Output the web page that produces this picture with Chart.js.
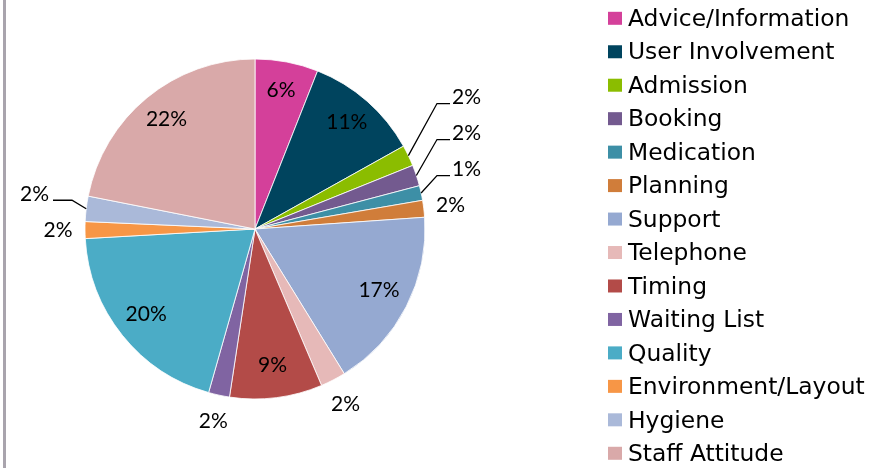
<!DOCTYPE html>
<html lang="en">
  <head>
    <meta charset="UTF-8">
    <title>Feedback categories</title>
    <script src="https://cdn.jsdelivr.net/npm/chart.js"></script>
    <style>
      html, body {
        margin: 0;
        padding: 0;
        background: #fff
      }

      .frame {
        position: relative;
        width: 878px;
        height: 468px
      }

      .frame .edge {
        position: absolute;
        left: 3px;
        top: 0;
        width: 3px;
        height: 468px;
        background: #a9a4ad
      }

      canvas {
        position: absolute;
        left: 0;
        top: 0
      }
    </style>
  </head>
  <body>
    <div class="frame">
      <div class="edge"></div>
      <canvas id="pie" width="878" height="468"></canvas>
    </div>
    <script>
      const categories = ['Advice/Information', 'User Involvement', 'Admission', 'Booking', 'Medication', 'Planning',
        'Support', 'Telephone', 'Timing', 'Waiting List', 'Quality', 'Environment/Layout', 'Hygiene', 'Staff Attitude'];
      const shares = [6.0, 10.9, 2.0, 2.0, 1.4, 1.6, 17.3, 2.4, 8.8, 2.0, 19.7, 1.6, 2.4, 21.9];
      const sliceColors = ['#d4409a', '#00445e', '#8bbd00', '#735a8f', '#3d8fa6', '#d07d3a',
        '#95a9d1', '#e6b9b8', '#b34b48', '#8064a2', '#4bacc6', '#f79646', '#aab9d9', '#d9a9a9'];

      // percentage labels: big slices inside, small ones outside with leader lines when pushed
      const pieLabels = {
        id: 'pieLabels',
        afterDatasetsDraw(chart) {
          const ctx = chart.ctx;
          const meta = chart.getDatasetMeta(0);
          const total = shares.reduce((a, b) => a + b, 0);
          const outside = [];
          const gap = 36;
          ctx.save();
          ctx.font = '21px Lato';
          ctx.fillStyle = '#000';
          ctx.strokeStyle = '#000';
          ctx.lineWidth = 1.3;
          ctx.textBaseline = 'middle';
          meta.data.forEach((arc, i) => {
            const p = arc.getProps(['x', 'y', 'startAngle', 'endAngle', 'outerRadius'], true);
            const mid = (p.startAngle + p.endAngle) / 2;
            const txt = Math.round(shares[i] / total * 100) + '%';
            if (shares[i] >= 5) {
              const r = p.outerRadius * 0.82;
              ctx.textAlign = 'center';
              ctx.fillText(txt, p.x + r * Math.cos(mid), p.y + r * Math.sin(mid) - 2);
            } else {
              const r = p.outerRadius + 27;
              outside.push({
                txt, mid, cx: p.x, cy: p.y, R: p.outerRadius,
                side: Math.cos(mid) >= 0 ? 1 : -1,
                lx: p.x + r * Math.cos(mid), ly: p.y + r * Math.sin(mid), moved: false
              });
            }
          });

          [1, -1].forEach(side => {
            const list = outside.filter(o => o.side === side);
            if (!list.length) return;
            const cy = list[0].cy;
            const anchor = list.reduce((a, b) => Math.abs(a.ly - cy) <= Math.abs(b.ly - cy) ? a : b);
            let prev = anchor.ly;
            list.filter(o => o.ly < anchor.ly).sort((a, b) => b.ly - a.ly).forEach(o => {
              if (prev - o.ly < gap) { o.ly = prev - gap; o.moved = true; }
              prev = o.ly;
            });
            prev = anchor.ly;
            list.filter(o => o.ly > anchor.ly).sort((a, b) => a.ly - b.ly).forEach(o => {
              if (o.ly - prev < gap) { o.ly = prev + gap; o.moved = true; }
              prev = o.ly;
            });
          });

          outside.forEach(o => {
            if (!o.moved) {
              ctx.textAlign = 'center';
              ctx.fillText(o.txt, o.lx, o.ly);
              return;
            }
            const ax = o.cx + o.R * Math.cos(o.mid);
            const ay = o.cy + o.R * Math.sin(o.mid);
            const lineY = o.ly + 6;
            const elbow = o.side > 0 ? 12 : 13;
            const end = o.side > 0 ? 25 : 32;
            const textAt = o.side > 0 ? 27 : 36;
            ctx.beginPath();
            ctx.moveTo(ax, ay);
            ctx.lineTo(o.cx + o.side * (o.R + elbow), lineY);
            ctx.lineTo(o.cx + o.side * (o.R + end), lineY);
            ctx.stroke();
            ctx.textAlign = o.side > 0 ? 'left' : 'right';
            ctx.fillText(o.txt, o.cx + o.side * (o.R + textAt), o.ly);
          });
          ctx.restore();
        }
      };

      const sideLegend = {
        id: 'sideLegend',
        afterDraw(chart) {
          const ctx = chart.ctx;
          ctx.save();
          ctx.font = '23.4px "DejaVu Sans"';
          ctx.textAlign = 'left';
          ctx.textBaseline = 'alphabetic';
          chart.data.labels.forEach((label, i) => {
            const yc = 18.3 + i * 33.46;
            ctx.fillStyle = sliceColors[i];
            ctx.fillRect(608, yc - 6.5, 14, 13);
            ctx.fillStyle = '#000';
            ctx.fillText(label, 628, yc + 7.7);
          });
          ctx.restore();
        }
      };

      const pieChart = new Chart(document.getElementById('pie'), {
        type: 'pie',
        data: {
          labels: categories,
          datasets: [{
            data: shares,
            backgroundColor: sliceColors,
            borderColor: '#ffffff',
            borderWidth: 0.8,
            radius: 170
          }]
        },
        options: {
          responsive: false,
          animation: false,
          layout: {
            padding: { left: 0, right: 368, top: 0, bottom: 10 }
          },
          plugins: {
            legend: { display: false },
            tooltip: { enabled: false }
          }
        },
        plugins: [pieLabels, sideLegend]
      });
    </script>
  </body>
</html>
